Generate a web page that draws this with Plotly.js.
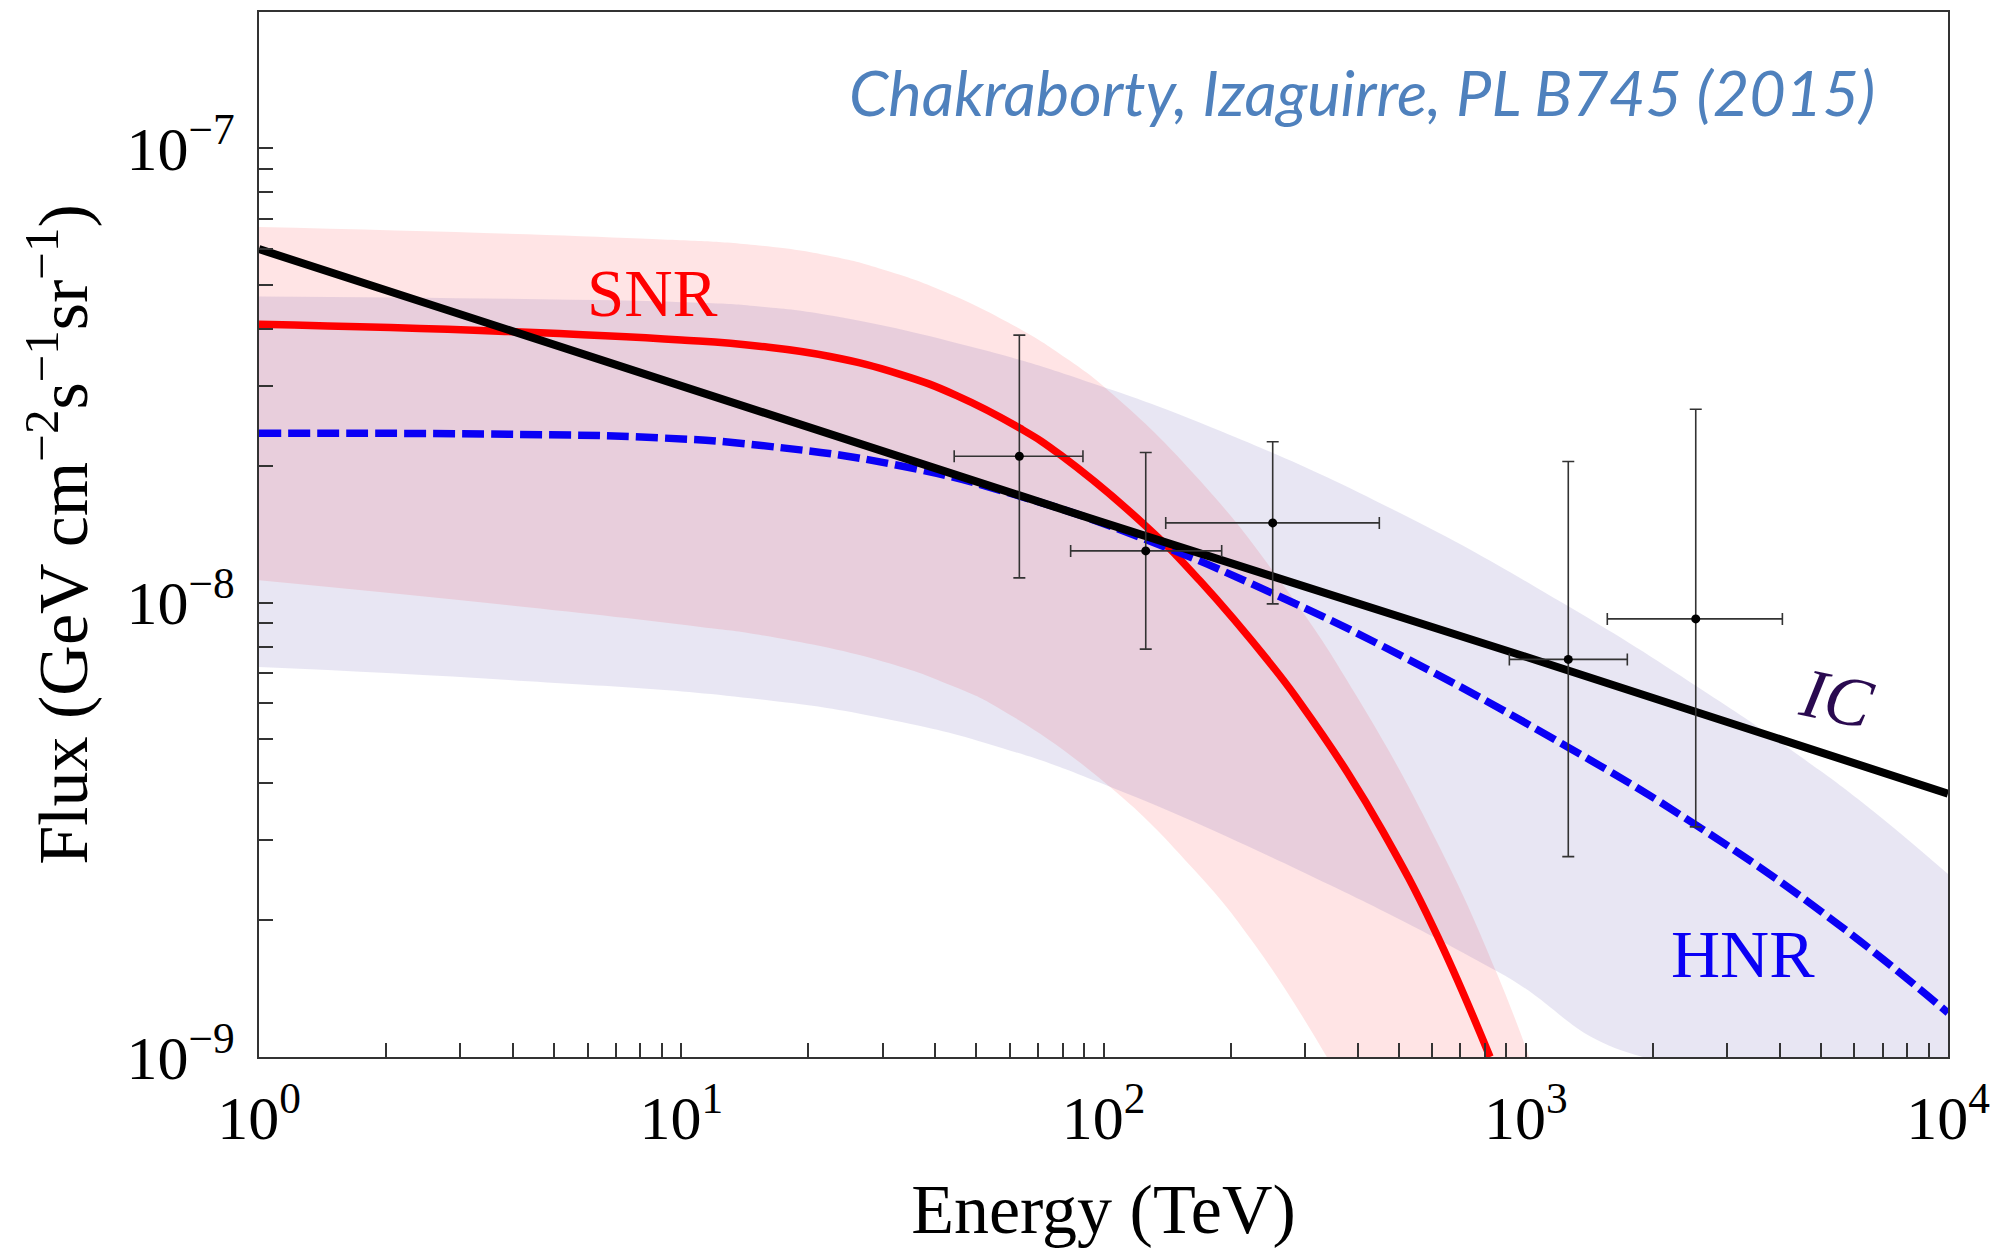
<!DOCTYPE html>
<html>
<head>
<meta charset="utf-8">
<script src="https://cdn.plot.ly/plotly-3.0.1.min.js"></script>
<style>
html,body{margin:0;padding:0;background:#ffffff;}
#chart{width:2003px;height:1250px;}
</style>
</head>
<body>
<div id="chart"></div>
<script>
// ---------------- data ----------------
// Energy in TeV, flux in GeV cm^-2 s^-1 sr^-1

// IC (black solid)
const icE = [1, 10, 100, 1000, 10000];
const icF = [6.0e-8, 3.0e-8, 1.5e-8, 7.6e-9, 3.8e-9];

// SNR (red solid)
const snrE = [1, 3.7, 10, 15.3, 22.5, 33, 44.9, 63.3, 79.3, 125.9, 169.2, 251.6, 292.1, 378.6, 459.8, 604, 823];
const snrF = [4.101e-8, 3.959e-8, 3.786e-8, 3.667e-8, 3.481e-8, 3.181e-8, 2.856e-8, 2.422e-8, 2.110e-8, 1.475e-8, 1.117e-8, 7.236e-9, 6.018e-9, 4.224e-9, 3.125e-9, 1.929e-9, 1.0e-9];

// HNR (blue dashed)
const hnrE = [1, 3.9, 8.9, 15.3, 33, 63.3, 125.9, 251.6, 504, 1259, 2527, 5226, 10000];
const hnrF = [2.36e-8, 2.347e-8, 2.305e-8, 2.220e-8, 2.001e-8, 1.716e-8, 1.377e-8, 1.048e-8, 7.663e-9, 4.805e-9, 3.242e-9, 2.029e-9, 1.251e-9];

// SNR uncertainty band (pink)
const snrBandHiE = [1, 8, 15.3, 23, 30, 41.1, 61.1, 81.8, 105.3, 169.2, 268.6, 397.8, 626.5, 853.6, 1019];
const snrBandHiF = [6.710e-8, 6.330e-8, 6.108e-8, 5.769e-8, 5.411e-8, 4.879e-8, 4.081e-8, 3.446e-8, 2.873e-8, 1.857e-8, 1.082e-8, 6.219e-9, 2.885e-9, 1.531e-9, 1.0e-9];
const snrBandLoE = [1, 3.9, 11.1, 15.3, 30, 44.5, 56.9, 99.2, 161.4, 228.5, 338];
const snrBandLoF = [1.12e-8, 9.867e-9, 8.841e-9, 8.494e-9, 7.424e-9, 6.519e-9, 5.836e-9, 4.066e-9, 2.624e-9, 1.765e-9, 1.0e-9];

// HNR uncertainty band (lavender)
const hnrBandHiE = [1, 11.1, 15.3, 23, 50.7, 90.9, 190.5, 503.8, 1250, 2586, 4461, 6420, 10000];
const hnrBandHiF = [4.72e-8, 4.574e-8, 4.487e-8, 4.273e-8, 3.619e-8, 3.073e-8, 2.381e-8, 1.575e-8, 9.863e-9, 6.471e-9, 4.589e-9, 3.569e-9, 2.527e-9];
const hnrBandLoE = [1, 3.9, 15.3, 31.9, 56.9, 99.2, 292.1, 855, 1895, 10000];
const hnrBandLoF = [7.22e-9, 6.76e-9, 6.13e-9, 5.50e-9, 4.80e-9, 4.00e-9, 2.57e-9, 1.545e-9, 1.0e-9, 1.0e-9];

// measured points with error bars
const ptE   = [63.2, 125.9, 251.6, 1261, 2527];
const ptElo = [44.3, 83.6, 140.4, 914.5, 1560];
const ptEhi = [89.4, 190.5, 450, 1740, 4053];
const ptF   = [2.10e-8, 1.30e-8, 1.498e-8, 7.50e-9, 9.21e-9];
const ptFlo = [1.134e-8, 7.90e-9, 9.94e-9, 2.76e-9, 3.21e-9];
const ptFhi = [3.88e-8, 2.14e-8, 2.26e-8, 2.045e-8, 2.665e-8];

// axis ticks
const xMajor = [1, 10, 100, 1000, 10000];
const xMajorText = ['10<sup>0</sup>', '10<sup>1</sup>', '10<sup>2</sup>', '10<sup>3</sup>', '10<sup>4</sup>'];
const yMajor = [1e-9, 1e-8, 1e-7];
const yMajorText = ['10<sup>−9</sup>', '10<sup>−8</sup>', '10<sup>−7</sup>'];
const minorMult = [2, 3, 4, 5, 6, 7, 8, 9];

// minor tick positions: 2..9 times each decade
function minorTicks(decades) {
  const out = [];
  decades.forEach(d => minorMult.forEach(m => out.push(d * m)));
  return out;
}
const xMinor = minorTicks(xMajor.slice(0, 4));
const yMinor = minorTicks(yMajor.slice(0, 2));

const serif = 'Liberation Serif, Times New Roman, serif';
const smooth = {shape: 'spline', smoothing: 1.3, simplify: false};

// ---------------- traces ----------------
const traces = [
  {x: snrBandLoE, y: snrBandLoF, mode: 'lines', line: Object.assign({width: 0}, smooth),
   hoverinfo: 'skip', showlegend: false},
  {x: snrBandHiE, y: snrBandHiF, mode: 'lines', line: Object.assign({width: 0}, smooth),
   fill: 'tonexty', fillcolor: 'rgba(255,0,10,0.105)', hoverinfo: 'skip', showlegend: false},
  {x: hnrBandLoE, y: hnrBandLoF, mode: 'lines', line: Object.assign({width: 0}, smooth),
   hoverinfo: 'skip', showlegend: false},
  {x: hnrBandHiE, y: hnrBandHiF, mode: 'lines', line: Object.assign({width: 0}, smooth),
   fill: 'tonexty', fillcolor: 'rgba(78,63,163,0.13)', hoverinfo: 'skip', showlegend: false},
  {name: 'SNR', x: snrE, y: snrF, mode: 'lines',
   line: Object.assign({color: '#ff0000', width: 7.5}, smooth), showlegend: false},
  {name: 'HNR', x: hnrE, y: hnrF, mode: 'lines',
   line: Object.assign({color: '#0a00f5', width: 7.5, dash: '22px,7px'}, smooth), showlegend: false},
  {name: 'IC', x: icE, y: icF, mode: 'lines',
   line: {color: '#000000', width: 8}, showlegend: false},
  {name: 'data', x: ptE, y: ptF, mode: 'markers',
   marker: {color: '#000000', size: 9},
   error_y: {type: 'data', symmetric: false,
             array: ptFhi.map((v, i) => v - ptF[i]),
             arrayminus: ptF.map((v, i) => v - ptFlo[i]),
             color: '#333333', thickness: 1.6, width: 6},
   error_x: {type: 'data', symmetric: false,
             array: ptEhi.map((v, i) => v - ptE[i]),
             arrayminus: ptE.map((v, i) => v - ptElo[i]),
             color: '#333333', thickness: 1.6, width: 6},
   showlegend: false}
];

// ---------------- layout ----------------
const tickStyle = {ticks: 'inside', ticklen: 14, tickwidth: 1.5, tickcolor: '#333333'};
const layout = {
  width: 2003, height: 1250,
  margin: {l: 259, r: 55, t: 12, b: 193},
  paper_bgcolor: '#ffffff', plot_bgcolor: '#ffffff',
  showlegend: false,
  xaxis: Object.assign({
    type: 'log', range: [0, 4],
    tickmode: 'array', tickvals: xMajor, ticktext: xMajorText,
    minor: Object.assign({tickmode: 'array', tickvals: xMinor, showgrid: false}, tickStyle),
    showline: true, linecolor: '#333333', linewidth: 2, mirror: true,
    showgrid: false, zeroline: false,
    tickfont: {family: serif, size: 62, color: '#000000'},
    ticklabelstandoff: 6,
    title: {text: 'Energy (TeV)', font: {family: serif, size: 70, color: '#000000'}, standoff: 33}
  }, tickStyle),
  yaxis: Object.assign({
    type: 'log', range: [-9, -6.7],
    tickmode: 'array', tickvals: yMajor, ticktext: yMajorText,
    minor: Object.assign({tickmode: 'array', tickvals: yMinor, showgrid: false}, tickStyle),
    showline: true, linecolor: '#333333', linewidth: 2, mirror: true,
    showgrid: false, zeroline: false,
    tickfont: {family: serif, size: 62, color: '#000000'},
    ticklabelstandoff: 10,
    title: {text: 'Flux (GeV cm<sup>−2</sup>s<sup>−1</sup>sr<sup>−1</sup>)',
            font: {family: serif, size: 70, color: '#000000'}, standoff: 16}
  }, tickStyle),
  annotations: [
    {text: 'SNR', xref: 'paper', yref: 'paper', x: 0.2327, y: 0.7311,
     xanchor: 'center', yanchor: 'middle', showarrow: false,
     font: {family: serif, size: 67, color: '#ff0000'}},
    {text: 'HNR', xref: 'paper', yref: 'paper', x: 0.8786, y: 0.0986,
     xanchor: 'center', yanchor: 'middle', showarrow: false,
     font: {family: serif, size: 68, color: '#0a00f5'}},
    {text: '<i>IC</i>', xref: 'paper', yref: 'paper', x: 0.9343, y: 0.3435,
     xanchor: 'center', yanchor: 'middle', showarrow: false, textangle: 12,
     font: {family: serif, size: 70, color: '#2a0a50'}},
    {text: '<i>Chakraborty, Izaguirre, PL B745 (2015)</i>', xref: 'paper', yref: 'paper',
     x: 0.653, y: 0.9237, xanchor: 'center', yanchor: 'middle', showarrow: false,
     font: {family: 'Lato, Open Sans, sans-serif', size: 63, color: '#4f81bd'}}
  ]
};

Plotly.newPlot('chart', traces, layout, {displayModeBar: false, responsive: false});
</script>
</body>
</html>
